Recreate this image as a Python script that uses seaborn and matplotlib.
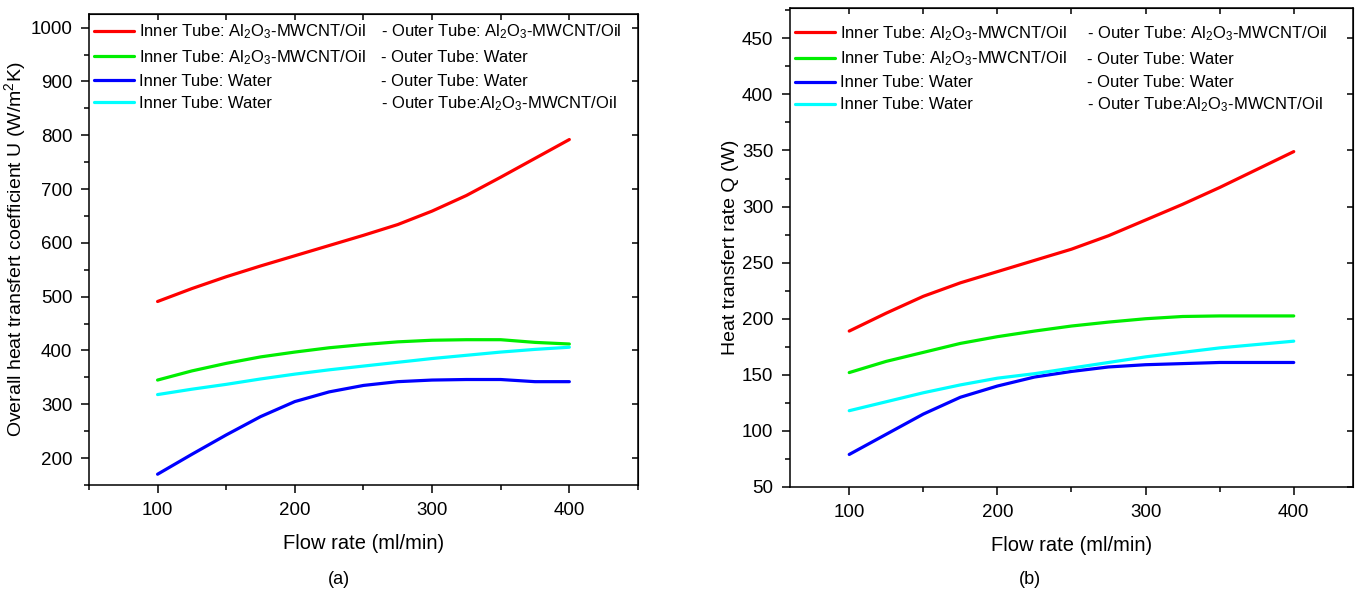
import pandas as pd
import seaborn as sns
import matplotlib.pyplot as plt
from matplotlib.ticker import MultipleLocator
from matplotlib.lines import Line2D


flow = [100, 125, 150, 175, 200, 225, 250, 275, 300, 325, 350, 375, 400]

# (a) overall heat transfer coefficient U
u_oil_oil = [491, 515, 537, 557, 576, 595, 614, 634, 659, 688, 722, 757, 792]
u_oil_water = [345, 362, 376, 388, 397, 405, 411, 416, 419, 420, 420, 415, 412]
u_water_water = [170, 207, 243, 277, 305, 323, 335, 342, 345, 346, 346, 342, 342]
u_water_oil = [318, 328, 337, 347, 356, 364, 371, 378, 385, 391, 397, 402, 406]

# (b) heat transfer rate Q
q_oil_oil = [189, 205, 220, 232, 242, 252, 262, 274, 288, 302, 317, 333, 349]
q_oil_water = [152, 162, 170, 178, 184, 189, 193.5, 197, 200, 202, 202.5, 202.5, 202.5]
q_water_water = [79, 97, 115, 130, 140, 148, 153, 157, 159, 160, 161, 161, 161]
q_water_oil = [118, 126, 134, 141, 147, 151, 156, 161, 166, 170, 174, 177, 180]

inner_labels = ["Inner Tube: Al$_2$O$_3$-MWCNT/Oil",
                "Inner Tube: Al$_2$O$_3$-MWCNT/Oil",
                "Inner Tube: Water",
                "Inner Tube: Water"]
outer_labels = ["- Outer Tube: Al$_2$O$_3$-MWCNT/Oil",
                "- Outer Tube: Water",
                "- Outer Tube: Water",
                "- Outer Tube:Al$_2$O$_3$-MWCNT/Oil"]
colors = ["#ff0000", "#00ee00", "#0000ff", "#00ffff"]


def to_long(series_list):
    rows = []
    for i, ys in enumerate(series_list):
        for x, y in zip(flow, ys):
            rows.append({"flow": x, "value": y, "case": i})
    return pd.DataFrame(rows)


sns.set_style("ticks")
plt.rcParams['font.family'] = ['Liberation Sans', 'DejaVu Sans']
plt.rcParams['mathtext.fontset'] = 'custom'
plt.rcParams['mathtext.rm'] = 'Liberation Sans'
plt.rcParams['mathtext.it'] = 'Liberation Sans'
for key in ['text.color', 'axes.labelcolor', 'xtick.color', 'ytick.color', 'axes.edgecolor']:
    plt.rcParams[key] = 'black'

fig = plt.figure(figsize=(13.62, 5.9), dpi=100)
ax1 = fig.add_axes([0.0653, 0.178, 0.4031, 0.798])
ax2 = fig.add_axes([0.580, 0.1746, 0.4134, 0.8118])

panels = [
    (ax1, [u_oil_oil, u_oil_water, u_water_water, u_water_oil],
     "Overall heat transfert coefficient U (W/m$^2$K)", (50, 450), (150, 1025), 100, 50,
     0.532, 0.993),
    (ax2, [q_oil_oil, q_oil_water, q_water_water, q_water_oil],
     "Heat transfert rate Q (W)", (60, 440), (50, 477), 50, 25,
     0.527, 0.977),
]

legends = []
for ax, series, ylab, xlim, ylim, major, minor, outer_x, leg_y in panels:
    df = to_long(series)
    sns.lineplot(data=df, x="flow", y="value", hue="case", palette=colors,
                 linewidth=2.3, legend=False, ax=ax)

    ax.set_xlim(*xlim)
    ax.set_ylim(*ylim)
    ax.xaxis.set_major_locator(MultipleLocator(100))
    ax.xaxis.set_minor_locator(MultipleLocator(50))
    ax.yaxis.set_major_locator(MultipleLocator(major))
    ax.yaxis.set_minor_locator(MultipleLocator(minor))
    ax.tick_params(which='major', direction='out', length=6, width=1.1, labelsize=13.5,
                   pad=6)
    ax.tick_params(which='minor', direction='out', length=3.5, width=1.1)

    # inward ticks on the top and right frame
    sec_x = ax.secondary_xaxis('top')
    sec_x.tick_params(which='both', direction='in', length=4, width=1.1, labeltop=False)
    sec_x.xaxis.set_major_locator(MultipleLocator(50))
    sec_y = ax.secondary_yaxis('right')
    sec_y.tick_params(which='both', direction='in', length=4, width=1.1, labelright=False)
    sec_y.yaxis.set_major_locator(MultipleLocator(major))

    for s in ax.spines.values():
        s.set_linewidth(1.1)
        s.set_visible(True)

    ax.set_xlabel("Flow rate (ml/min)", fontsize=14.5, labelpad=11)
    ax.set_ylabel(ylab, fontsize=14, labelpad=2)

    handles = [Line2D([], [], color=c, linewidth=2.3) for c in colors]
    leg = ax.legend(handles, inner_labels, loc='upper left', bbox_to_anchor=(0, leg_y),
                    frameon=False, fontsize=12, handlelength=2.4, handletextpad=0.3,
                    labelspacing=0.42, borderaxespad=0.1, borderpad=0.2)
    legends.append((ax, leg, outer_x))

# second half of each legend row, lined up with the first half
fig.canvas.draw()
for ax, leg, outer_x in legends:
    for t, lab in zip(leg.get_texts(), outer_labels):
        bb = t.get_window_extent()
        yc = ax.transAxes.inverted().transform((0, (bb.y0 + bb.y1) / 2))[1]
        ax.text(outer_x, yc, lab, transform=ax.transAxes, fontsize=12,
                va='center', ha='left')

fig.text(0.249, 0.01, "(a)", fontsize=13, ha='center')
fig.text(0.756, 0.01, "(b)", fontsize=13, ha='center')

plt.savefig("out.png", dpi=100)
